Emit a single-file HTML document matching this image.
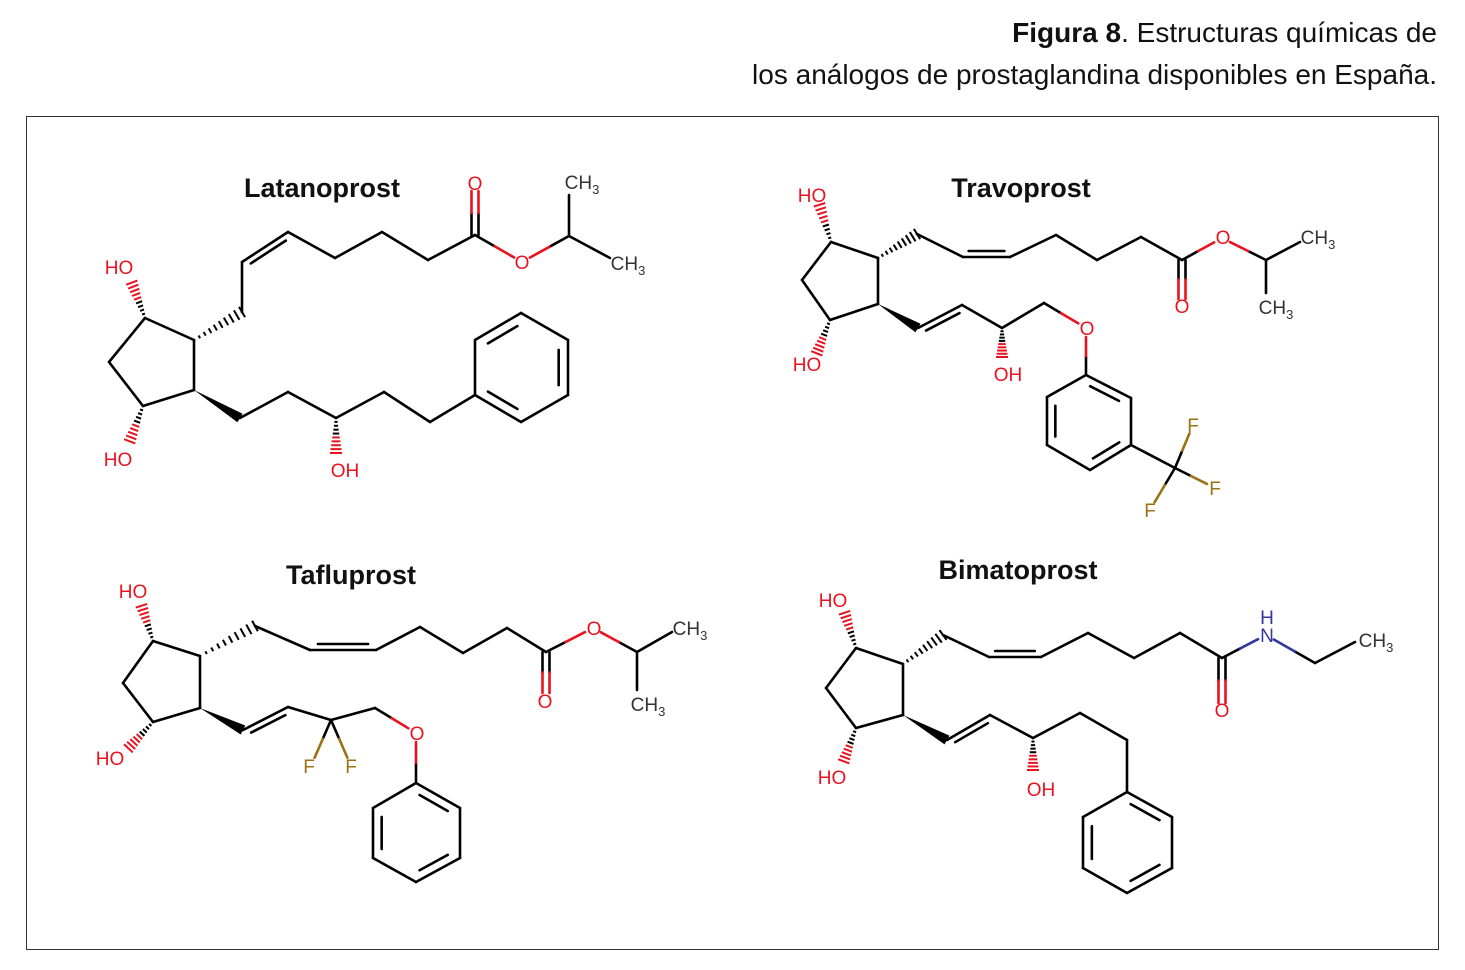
<!DOCTYPE html>
<html><head><meta charset="utf-8"><style>
body{margin:0;background:#fff;width:1465px;height:970px;overflow:hidden;font-family:"Liberation Sans",sans-serif}
.cap{position:absolute;right:28px;text-align:right;font-size:28px;color:#111;line-height:42px;top:12px}
.box{position:absolute;left:26px;top:116px;width:1411px;height:832px;border:1px solid #333}
svg{position:absolute;left:0;top:0}
</style></head><body>
<div class="cap"><b>Figura 8</b>. Estructuras químicas de<br>los análogos de prostaglandina disponibles en España.</div>
<div class="box"></div>
<svg id="s" width="1465" height="970" xmlns="http://www.w3.org/2000/svg" font-family="Liberation Sans, sans-serif"></svg>
<script>
var S=document.getElementById('s'),h='';
var R='#e8131f',F='#9a7212',N='#3535a0';
function L(a,b,c){h+='<line x1="'+a[0]+'" y1="'+a[1]+'" x2="'+b[0]+'" y2="'+b[1]+'" stroke="'+(c||'#000')+'" stroke-width="2.6" stroke-linecap="round"/>';}
function P(pts){for(var i=0;i<pts.length-1;i++)L(pts[i],pts[i+1]);}
function sh(a,b,d){var dx=b[0]-a[0],dy=b[1]-a[1],l=Math.hypot(dx,dy);return [b[0]-dx/l*d,b[1]-dy/l*d];}
function H(a,b,c){
  var e=sh(a,b,9),m=[(a[0]+e[0])/2,(a[1]+e[1])/2];L(a,m);L(m,e,c||R);}
function D(a,b,side){
  var dx=b[0]-a[0],dy=b[1]-a[1],l=Math.hypot(dx,dy),nx=-dy/l*6*side,ny=dx/l*6*side;
  L([a[0]+nx+dx*.12,a[1]+ny+dy*.12],[b[0]+nx-dx*.12,b[1]+ny-dy*.12]);}
function DO(a,b,side){
  var e=sh(a,b,9),dx=b[0]-a[0],dy=b[1]-a[1],l=Math.hypot(dx,dy),nx=-dy/l*3.5,ny=dx/l*3.5;
  H([a[0]+nx,a[1]+ny],[b[0]+nx,b[1]+ny]);H([a[0]-nx,a[1]-ny],[b[0]-nx,b[1]-ny]);}
function W(a,b){var dx=b[0]-a[0],dy=b[1]-a[1],l=Math.hypot(dx,dy),nx=-dy/l*5,ny=dx/l*5;
  h+='<polygon points="'+a[0]+','+a[1]+' '+(b[0]+nx)+','+(b[1]+ny)+' '+(b[0]-nx)+','+(b[1]-ny)+'" fill="#000"/>';}
function Hs(a,b,c,hetero){var n=9,dx=b[0]-a[0],dy=b[1]-a[1],l=Math.hypot(dx,dy),ux=-dy/l,uy=dx/l;
  if(hetero){b=sh(a,b,5);dx=b[0]-a[0];dy=b[1]-a[1];}
  for(var i=0;i<=n;i++){var t=i/n,w=1+t*5,x=a[0]+dx*t,y=a[1]+dy*t;
   h+='<line x1="'+(x+ux*w)+'" y1="'+(y+uy*w)+'" x2="'+(x-ux*w)+'" y2="'+(y-uy*w)+'" stroke="'+(c&&t>.5?c:'#000')+'" stroke-width="2"/>';}}
function T(x,y,s,c,sz){h+='<text x="'+x+'" y="'+y+'" fill="'+(c||'#000')+'" font-size="'+(sz||19)+'" text-anchor="middle">'+s+'</text>';}
function CH3(x,y){h+='<text x="'+x+'" y="'+y+'" fill="#333" font-size="19" text-anchor="middle">CH<tspan font-size="13" dy="5">3</tspan></text>';}
function B(t,x,y){h+='<text x="'+x+'" y="'+y+'" font-size="27" font-weight="bold" text-anchor="middle" fill="#111">'+t+'</text>';}
function ring(c,d){P([c[0],c[1],c[2],c[3],c[4],c[5],c[0]]);var cx=0,cy=0;c.forEach(function(p){cx+=p[0]/6;cy+=p[1]/6;});
  d.forEach(function(i){var a=c[i],b=c[(i+1)%6];var k=.8;var A=[cx+(a[0]-cx)*k,cy+(a[1]-cy)*k],Bb=[cx+(b[0]-cx)*k,cy+(b[1]-cy)*k];var e=.1;
   L([A[0]+(Bb[0]-A[0])*e,A[1]+(Bb[1]-A[1])*e],[Bb[0]-(Bb[0]-A[0])*e,Bb[1]-(Bb[1]-A[1])*e]);});}

B('Latanoprost',322,197);
var a1=[145,318],a2=[194,340],a3=[194,390],a4=[143,406],a5=[109,362];
P([a1,a2,a3,a4,a5,a1]);Hs(a1,[130,278],R,1);T(119,274,'HO',R);Hs(a4,[128,446],R,1);T(118,466,'HO',R);
Hs(a2,[242,312]);P([[242,312],[242,262],[288,232],[335,258],[382,232],[428,260],[475,235]]);D([242,262],[288,232],1);
DO([475,235],[475,182]);T(475,190,'O',R);H([475,235],[522,262]);T(522,269,'O',R);H([569,236],[522,262]);
L([569,236],[569,195]);CH3(582,189);L([569,236],[610,258]);CH3(628,270);
W(a3,[240,418]);P([[240,418],[288,392],[336,418],[384,392],[430,422],[475,395]]);Hs([336,418],[336,458],R,1);T(345,477,'OH',R);
ring([[475,395],[475,340],[521,313],[568,340],[568,395],[521,422]],[1,3,5]);

B('Travoprost',1021,197);
var b1=[831,242],b2=[878,258],b3=[878,304],b4=[830,320],b5=[802,280];
P([b1,b2,b3,b4,b5,b1]);Hs(b1,[818,200],R,1);T(812,202,'HO',R);Hs(b4,[815,358],R,1);T(807,371,'HO',R);
Hs(b2,[917,234]);P([[917,234],[963,257],[1010,257],[1056,235],[1097,260],[1141,237],[1182,260]]);D([963,257],[1010,257],-1);
DO([1182,260],[1182,308]);T(1182,313,'O',R);H([1182,260],[1222,238]);T(1223,244,'O',R);H([1266,260],[1222,238]);
L([1266,260],[1300,242]);CH3(1318,244);L([1266,260],[1266,293]);CH3(1276,314);
W(b3,[918,328]);P([[918,328],[962,305],[1002,328],[1044,303]]);D([918,328],[962,305],1);Hs([1002,328],[1002,362],R,1);T(1008,381,'OH',R);
H([1044,303],[1086,328]);T(1087,335,'O',R);H([1086,375],[1086,328]);
ring([[1086,375],[1131,398],[1131,445],[1090,470],[1047,445],[1047,397]],[0,2,4]);
L([1131,445],[1175,468]);H([1175,468],[1193,425],F);T(1193,432,'F',F);H([1175,468],[1215,488],F);T(1215,495,'F',F);H([1175,468],[1150,510],F);T(1150,517,'F',F);

B('Tafluprost',351,584);
var c1=[153,641],c2=[200,656],c3=[200,708],c4=[153,722],c5=[123,683];
P([c1,c2,c3,c4,c5,c1]);Hs(c1,[140,601],R,1);T(133,598,'HO',R);Hs(c4,[125,752],R,1);T(110,765,'HO',R);
Hs(c2,[255,626]);P([[255,626],[310,650],[376,650],[420,627],[463,653],[507,628],[546,652]]);D([310,650],[376,650],-1);
DO([546,652],[546,702]);T(545,708,'O',R);H([546,652],[593,628]);T(594,635,'O',R);H([637,652],[593,628]);
L([637,652],[672,632]);CH3(690,635);L([637,652],[637,690]);CH3(648,711);
W(c3,[243,730]);P([[243,730],[288,707],[331,720],[375,708]]);D([243,730],[288,707],1);
H([331,720],[311,766],F);T(309,773,'F',F);H([331,720],[351,766],F);T(351,773,'F',F);
H([375,708],[416,733]);T(417,740,'O',R);H([416,783],[416,733]);
ring([[416,783],[460,808],[460,858],[416,882],[373,858],[373,808]],[0,2,4]);

B('Bimatoprost',1018,579);
var d1=[856,648],d2=[903,664],d3=[903,715],d4=[856,728],d5=[826,688];
P([d1,d2,d3,d4,d5,d1]);Hs(d1,[843,608],R,1);T(833,607,'HO',R);Hs(d4,[842,766],R,1);T(832,784,'HO',R);
Hs(d2,[943,635]);P([[943,635],[989,657],[1041,657],[1088,633],[1134,658],[1180,633],[1222,658]]);D([989,657],[1041,657],-1);
DO([1222,658],[1222,712]);T(1222,717,'O',R);H([1222,658],[1266,635],N);T(1267,642,'N',N);T(1267,624,'H',N);
H([1315,663],[1266,635],N);L([1315,663],[1355,642]);CH3(1376,647);
W(d3,[947,740]);P([[947,740],[990,715],[1033,738],[1080,713],[1127,740],[1127,792]]);D([947,740],[990,715],1);
Hs([1033,738],[1033,775],R,1);T(1041,796,'OH',R);
ring([[1127,792],[1172,817],[1172,868],[1127,893],[1083,868],[1083,817]],[0,2,4]);
S.innerHTML=h;
</script>
</body></html>
